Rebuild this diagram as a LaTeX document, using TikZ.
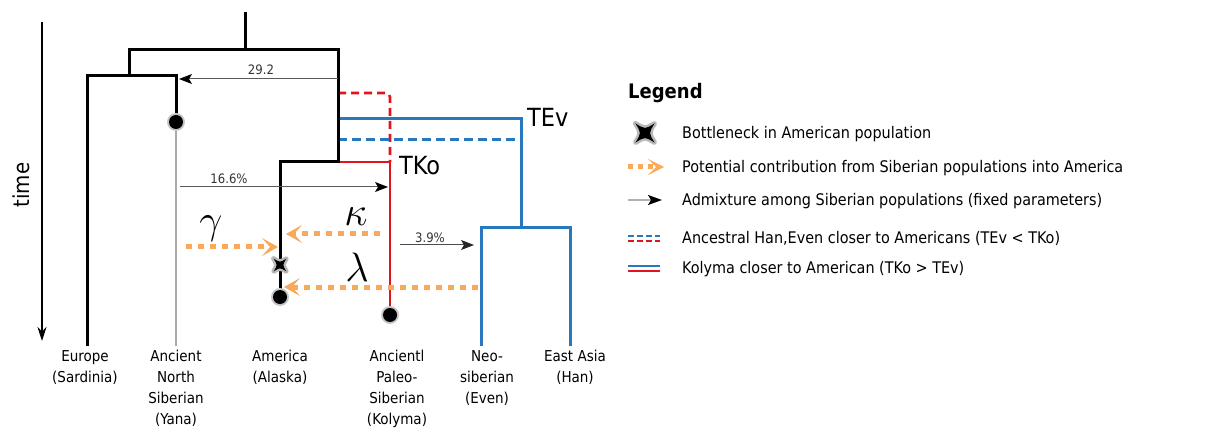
\documentclass[tikz,border=0pt]{standalone}
\usepackage{graphicx}
\usepackage{fontspec}
\setmainfont{DejaVu Sans Condensed}
\usetikzlibrary{arrows.meta}
\definecolor{tblue}{RGB}{40,120,190}
\definecolor{tred}{RGB}{225,20,30}
\definecolor{torange}{RGB}{248,170,90}
\definecolor{anc}{RGB}{170,170,170}
\newcommand{\bigmath}[1]{\scalebox{1.65}{\fontsize{24}{24}\selectfont$#1$}}
\tikzset{
  br/.style={line width=3pt,line join=miter},
  blk/.style={br,black},
  anl/.style={line width=2.6pt,anc},
  redl/.style={line width=2.6pt,tred},
  redd/.style={line width=2.6pt,tred,dash pattern=on 8pt off 5pt},
  bluel/.style={line width=3pt,tblue},
  blued/.style={line width=3pt,tblue,dash pattern=on 9pt off 5pt},
  adm/.style={line width=1pt,gray!70!black,-{Stealth[length=13pt,width=10pt,inset=3pt,black]}},
  adm2/.style={line width=1pt,gray!60!black,-{Stealth[length=13pt,width=10pt,inset=3pt,gray!30!black]}},
  ora/.style={line width=5pt,torange,dash pattern=on 6pt off 6pt,-{Stealth[length=16pt,width=18pt,inset=8pt,line width=1pt,fill=torange]}},
  num/.style={font=\fontsize{13}{13}\selectfont,text=gray!40!black,inner sep=0pt},
  lab/.style={font=\fontsize{15}{21}\selectfont,align=center,anchor=north,inner sep=0pt},
  tk/.style={font=\fontsize{25}{25}\selectfont,anchor=west,inner sep=0pt},
  greek/.style={inner sep=0pt},
  leg/.style={font=\fontsize{16}{16}\selectfont,anchor=west,inner sep=0pt},
  dotpic/.pic={\fill[gray!45] (0,0) circle (9pt); \fill[black] (0,0) circle (7pt);},
  bneck/.pic={
    \draw[gray!55,line width=5pt,line join=round,fill=gray!55] (-8,-8) .. controls (0,-3) .. (8,-8) .. controls (3,0) .. (8,8) .. controls (0,3) .. (-8,8) .. controls (-3,0) .. cycle;
    \fill[black] (-8,-8) .. controls (0,-3) .. (8,-8) .. controls (3,0) .. (8,8) .. controls (0,3) .. (-8,8) .. controls (-3,0) .. cycle;},
}
\begin{document}
\begin{tikzpicture}[x=1pt,y=-1pt]
\useasboundingbox (0,0) rectangle (1228,430);
% time axis
\coordinate (t0) at (42,22);
\coordinate (t1) at (42,341);
\draw[line width=1.8pt,-{Stealth[length=14pt,width=9pt]}] (t0) -- (t1);
\node[rotate=90,font=\fontsize{22}{22}\selectfont,inner sep=0pt] (time) at (21,185) {time};
% coordinates
\coordinate (rt) at (245,12);
\coordinate (r) at (245,50);
\coordinate (al) at (129,50);
\coordinate (ar) at (338,50);
\coordinate (b) at (129,76);
\coordinate (bl) at (87,76);
\coordinate (bR) at (176,76);
\coordinate (eu) at (87,346);
\coordinate (ansd) at (176,122);
\coordinate (ansb) at (176,346);
\coordinate (k) at (338,162);
\coordinate (kl) at (280,162);
\coordinate (kr) at (390,162);
\coordinate (amd) at (280,297);
\coordinate (amx) at (280,265);
\coordinate (kod) at (390,315);
\coordinate (rd0) at (338,93);
\coordinate (rd1) at (390,93);
\coordinate (bs0) at (338,119);
\coordinate (bs1) at (521,119);
\coordinate (bs2) at (521,228);
\coordinate (bd0) at (338,140);
\coordinate (bd1) at (515,140);
\coordinate (nl) at (481,228);
\coordinate (nr) at (570,228);
\coordinate (neb) at (481,346);
\coordinate (hab) at (570,346);
% ancient north siberian grey
\draw[anl] (ansd) -- (ansb);
% red dashed
\draw[redd,rounded corners=4pt] (rd0) -- (rd1) -- (kr);
% blue
\draw[bluel] (bs0) -- (bs1) -- (bs2);
\draw[blued] (bd0) -- (bd1);
\draw[bluel] (neb) -- (nl) -- (nr) -- (hab);
% red solid
\draw[redl] (k) -- (kr) -- (kod);
% black tree
\draw[blk] (rt) -- (r);
\draw[blk] (b) -- (al) -- (ar) -- (k) -- (kl) -- (amd);
\draw[blk] (eu) -- (bl) -- (bR) -- (ansd);
% admixture arrows
\coordinate (a29s) at (338,79);
\coordinate (a29e) at (179,79);
\draw[adm] (a29s) -- (a29e);
\node[num] (n29) at (261,70) {29.2};
\coordinate (a16s) at (180,187);
\coordinate (a16e) at (388,187);
\draw[adm] (a16s) -- (a16e);
\node[num] (n16) at (229,179) {16.6\%};
\coordinate (a39s) at (400,245);
\coordinate (a39e) at (474,245);
\draw[adm2] (a39s) -- (a39e);
\node[num] (n39) at (430,238) {3.9\%};
% orange arrows
\coordinate (gs) at (186,247);
\coordinate (ge) at (278,247);
\draw[ora] (gs) -- (ge);
\coordinate (ks) at (380,234);
\coordinate (ke) at (286,234);
\draw[ora] (ks) -- (ke);
\coordinate (ls) at (478,287);
\coordinate (le) at (284,287);
\draw[ora] (ls) -- (le);
\node[greek] (g) at (211,229) {\bigmath{\gamma}};
\node[greek] (kap) at (356,217) {\bigmath{\kappa}};
\node[greek] (lam) at (357,267) {\bigmath{\lambda}};
% dots and bottleneck
\pic at (ansd) {dotpic};
\pic at (amd) {dotpic};
\pic at (kod) {dotpic};
\pic[scale=0.8] at (amx) {bneck};
% TKo TEv
\node[tk] (tko) at (399,166) {TKo};
\node[tk] (tev) at (527,117) {TEv};
% bottom labels
\node[lab] (l1) at (85,350) {Europe\\(Sardinia)};
\node[lab] (l2) at (176,350) {Ancient\\North\\Siberian\\(Yana)};
\node[lab] (l3) at (280,350) {America\\(Alaska)};
\node[lab] (l4) at (397,350) {Ancientl\\Paleo-\\Siberian\\(Kolyma)};
\node[lab] (l5) at (487,350) {Neo-\\siberian\\(Even)};
\node[lab] (l6) at (575,350) {East Asia\\(Han)};
% legend
\node[leg,font=\bfseries\fontsize{20}{20}\selectfont] (lg) at (628,93) {Legend};
\pic[scale=1.2] at (645,133) {bneck};
\node[leg] (e1) at (682,134) {Bottleneck in American population};
\coordinate (o1) at (628,167);
\coordinate (o2) at (664,167);
\draw[line width=5pt,torange,dash pattern=on 5pt off 5pt,-{Stealth[length=16pt,width=16pt,inset=8pt,line width=1pt,fill=torange]}] (o1) -- (o2);
\node[leg] (e2) at (682,168) {Potential contribution from Siberian populations into America};
\coordinate (m1) at (628,200);
\coordinate (m2) at (662,200);
\draw[line width=1.5pt,gray!60,-{Stealth[length=14pt,width=10pt,inset=3pt,black]}] (m1) -- (m2);
\node[leg] (e3) at (682,201) {Admixture among Siberian populations (fixed parameters)};
\coordinate (d1) at (628,236);
\coordinate (d2) at (660,236);
\coordinate (d3) at (628,241);
\coordinate (d4) at (660,241);
\draw[line width=2.5pt,tblue,dash pattern=on 6pt off 3pt] (d1) -- (d2);
\draw[line width=2.5pt,tred,dash pattern=on 6pt off 3pt] (d3) -- (d4);
\node[leg] (e4) at (682,238) {Ancestral Han,Even closer to Americans (TEv < TKo)};
\coordinate (s1) at (628,266);
\coordinate (s2) at (660,266);
\coordinate (s3) at (628,271);
\coordinate (s4) at (660,271);
\draw[line width=2.5pt,tblue] (s1) -- (s2);
\draw[line width=2.5pt,tred] (s3) -- (s4);
\node[leg] (e5) at (682,269) {Kolyma closer to American (TKo > TEv)};
\end{tikzpicture}
\end{document}
